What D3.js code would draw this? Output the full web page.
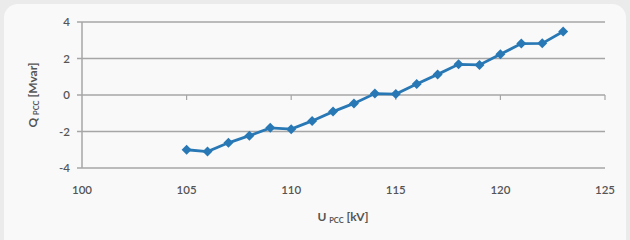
<!DOCTYPE html>
<meta charset="utf-8">
<script src="https://d3js.org/d3.v7.min.js"></script>
<style>
  body { margin: 0; background: #ebebeb; }
  text { font-family: Lato, "Open Sans", sans-serif; fill: #555; }
</style>
<div id="chart"></div>
<script>
// voltage at PCC [kV]
const uPcc = [105, 106, 107, 108, 109, 110, 111, 112, 113, 114, 115, 116, 117, 118, 119, 120, 121, 122, 123];
// reactive power at PCC [Mvar]
const qPcc = [-3.0, -3.1, -2.62, -2.23, -1.8, -1.87, -1.42, -0.91, -0.46, 0.08, 0.05, 0.6, 1.13, 1.68, 1.65, 2.23, 2.82, 2.83, 3.48];
const xTicks = [100, 105, 110, 115, 120, 125];
const yTicks = [-4, -2, 0, 2, 4];

const W = 630, H = 240;
const margin = { top: 22, right: 25, bottom: 72, left: 82 };

const svg = d3.select("#chart").append("svg")
    .attr("width", W).attr("height", H);

// rounded panel
svg.append("rect")
    .attr("x", 4).attr("y", 4)
    .attr("width", 622).attr("height", 260)
    .attr("rx", 14)
    .attr("fill", "#f9f9f9");

const x = d3.scaleLinear().domain([100, 125]).range([margin.left, W - margin.right]);
const y = d3.scaleLinear().domain([-4, 4]).range([H - margin.bottom, margin.top]);

// gridlines
svg.append("g").selectAll("line")
    .data(yTicks)
    .join("line")
    .attr("x1", x(100) - 5).attr("x2", x(125))
    .attr("y1", d => y(d)).attr("y2", d => y(d))
    .attr("stroke", "#a6a6a6").attr("stroke-width", 1.5);

// y axis line
svg.append("line")
    .attr("x1", x(100)).attr("x2", x(100))
    .attr("y1", y(4)).attr("y2", y(-4))
    .attr("stroke", "#a6a6a6").attr("stroke-width", 1.5);

// x tick marks on the zero line
svg.append("g").selectAll("line")
    .data(xTicks.slice(1))
    .join("line")
    .attr("x1", d => x(d)).attr("x2", d => x(d))
    .attr("y1", y(0)).attr("y2", y(0) + 5)
    .attr("stroke", "#a6a6a6").attr("stroke-width", 1.2);

// y tick labels
svg.append("g").selectAll("text")
    .data(yTicks)
    .join("text")
    .attr("x", x(100) - 12)
    .attr("y", d => y(d))
    .attr("dy", "0.35em")
    .attr("text-anchor", "end")
    .attr("font-size", 11.5)
    .attr("font-weight", 600)
    .text(d => d);

// x tick labels (at bottom)
svg.append("g").selectAll("text")
    .data(xTicks)
    .join("text")
    .attr("x", d => x(d))
    .attr("y", y(-4) + 22)
    .attr("dy", "0.35em")
    .attr("text-anchor", "middle")
    .attr("font-size", 11.5)
    .attr("font-weight", 600)
    .text(d => d);

// axis titles
const xt = svg.append("text")
    .attr("x", 343).attr("y", 221)
    .attr("text-anchor", "middle")
    .attr("font-size", 12).attr("font-weight", "bold");
xt.append("tspan").text("U ");
xt.append("tspan").attr("font-size", 7.5).attr("dy", 2).text("PCC");
xt.append("tspan").attr("dy", -2).text(" [kV]");

const yt = svg.append("text")
    .attr("transform", `translate(37, ${y(0)}) rotate(-90)`)
    .attr("text-anchor", "middle")
    .attr("font-size", 12).attr("font-weight", "bold");
yt.append("tspan").text("Q ");
yt.append("tspan").attr("font-size", 7.5).attr("dy", 2).text("PCC");
yt.append("tspan").attr("dy", -2).text(" [Mvar]");

// series line
const line = d3.line()
    .x((d, i) => x(uPcc[i]))
    .y(d => y(d));

svg.append("path")
    .datum(qPcc)
    .attr("d", line)
    .attr("fill", "none")
    .attr("stroke", "#2878b5")
    .attr("stroke-width", 2.8);

// diamond markers (rotated squares)
svg.append("g").selectAll("path")
    .data(qPcc)
    .join("path")
    .attr("transform", (d, i) => `translate(${x(uPcc[i])}, ${y(d)}) rotate(45)`)
    .attr("d", d3.symbol(d3.symbolSquare, 50))
    .attr("fill", "#2878b5");
</script>
